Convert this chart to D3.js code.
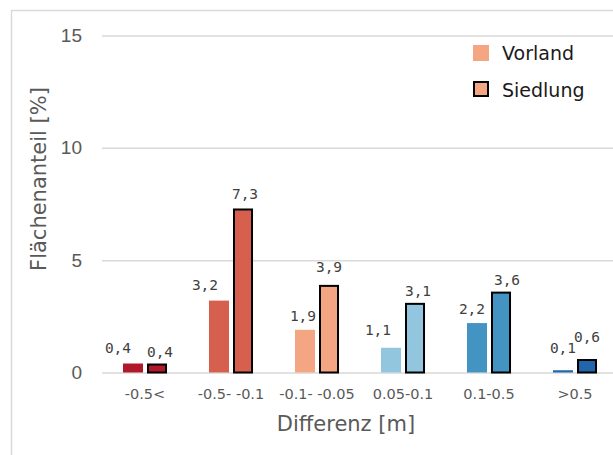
<!DOCTYPE html>
<meta charset="utf-8">
<script src="https://d3js.org/d3.v7.min.js"></script>
<style>
  body { margin: 0; background: #fff; }
  .tick text { fill: #595959; }
</style>
<div id="chart"></div>
<script>

  // data
  var categories = ["-0.5<", "-0.5- -0.1", "-0.1- -0.05", "0.05-0.1", "0.1-0.5", ">0.5"];
  var seriesNames = ["Vorland", "Siedlung"];
  var vorland = [0.4, 3.2, 1.9, 1.1, 2.2, 0.1];
  var siedlung = [0.4, 7.3, 3.9, 3.1, 3.6, 0.6];
  var yTicks = [0, 5, 10, 15];
  var colors = ["#b2182b", "#d6604d", "#f4a582", "#92c5de", "#4393c3", "#2166ac"];

  // small nudges so the value labels sit like in the original
  var labelDx = {Vorland: [-15, -14, -2, -13, -5, 0], Siedlung: [3, 2, 0, 3, 6, 0]};
  var labelDy = {Vorland: [-2, -2, 0, -4, 0, -8], Siedlung: [2, 0, -4, 2, 2, -8]};

  var width = 613, height = 455;

  var svg = d3.select("#chart")
    .append("svg")
      .attr("width", width)
      .attr("height", height)
      .style("font-family", "'DejaVu Sans', sans-serif");

  // chart frame
  svg.append("rect")
    .attr("x", 11.5).attr("y", 10.5)
    .attr("width", 620).attr("height", 460)
    .attr("fill", "none")
    .attr("stroke", "#d9d9d9")
    .attr("stroke-width", 1.5);

  var y = d3.scaleLinear()
    .domain([0, 15])
    .range([372.5, 35.5]);

  var x = d3.scaleBand()
    .domain(categories)
    .range([102, 618])
    .paddingInner(0.488)
    .paddingOuter(0.244);

  var x1 = d3.scaleBand()
    .domain(seriesNames)
    .range([0, x.bandwidth()])
    .paddingInner(1 / 6);

  // grid lines + y labels
  var yAxis = svg.append("g")
    .attr("transform", "translate(102,0)")
    .call(d3.axisLeft(y).tickValues(yTicks).tickSize(-520).tickPadding(20));
  yAxis.select(".domain").remove();
  yAxis.selectAll(".tick line").attr("stroke", "#d9d9d9").attr("stroke-width", 1.5);
  yAxis.selectAll(".tick text").style("font-size", "19px");

  // bars
  var rows = categories.map(function(c, i) {
    return {cat: c, i: i, values: [
      {name: "Vorland", v: vorland[i]},
      {name: "Siedlung", v: siedlung[i]}
    ]};
  });

  var groups = svg.selectAll(".grp")
    .data(rows)
    .enter()
    .append("g")
      .attr("class", "grp")
      .attr("transform", function(d) { return "translate(" + x(d.cat) + ",0)"; });

  groups.selectAll("rect")
    .data(function(d) { return d.values.map(function(s) { return {name: s.name, v: s.v, i: d.i}; }); })
    .enter()
    .append("rect")
      .attr("x", function(d) { return x1(d.name) + (d.name == "Siedlung" ? 1 : 0); })
      .attr("width", function(d) { return x1.bandwidth() - (d.name == "Siedlung" ? 2 : 0); })
      .attr("y", function(d) { return y(d.v) + (d.name == "Siedlung" ? 1 : 0); })
      .attr("height", function(d) { return y(0) - y(d.v) - (d.name == "Siedlung" ? 1 : 0); })
      .attr("fill", function(d) { return colors[d.i]; })
      .attr("stroke", function(d) { return d.name == "Siedlung" ? "#000" : "none"; })
      .attr("stroke-width", 2);

  // value labels
  groups.selectAll(".val")
    .data(function(d) { return d.values.map(function(s) { return {name: s.name, v: s.v, i: d.i}; }); })
    .enter()
    .append("text")
      .attr("class", "val")
      .attr("x", function(d) { return x1(d.name) + x1.bandwidth() / 2 + labelDx[d.name][d.i]; })
      .attr("y", function(d) { return y(d.v) - 9 + labelDy[d.name][d.i]; })
      .attr("text-anchor", "middle")
      .style("font-family", "'DejaVu Sans Mono', monospace")
      .style("font-size", "14.5px")
      .style("fill", "#404040")
      .text(function(d) { return String(d.v).replace(".", ","); });

  // x labels
  svg.selectAll(".xlab")
    .data(categories)
    .enter()
    .append("text")
      .attr("class", "xlab")
      .attr("x", function(d) { return x(d) + x.bandwidth() / 2; })
      .attr("y", 399)
      .attr("text-anchor", "middle")
      .style("font-size", "14.5px")
      .style("fill", "#595959")
      .text(function(d) { return d; });

  // axis titles
  svg.append("text")
    .attr("x", 346).attr("y", 431)
    .attr("text-anchor", "middle")
    .style("font-size", "21px")
    .style("fill", "#595959")
    .text("Differenz [m]");

  svg.append("text")
    .attr("transform", "translate(46,179) rotate(-90)")
    .attr("text-anchor", "middle")
    .style("font-size", "21px")
    .style("fill", "#595959")
    .text("Flächenanteil [%]");

  // legend
  var legend = svg.append("g");
  legend.append("rect")
    .attr("x", 473).attr("y", 45).attr("width", 16).attr("height", 16)
    .attr("fill", "#f4a582");
  legend.append("rect")
    .attr("x", 474).attr("y", 82).attr("width", 14).attr("height", 14)
    .attr("fill", "#f4a582").attr("stroke", "#000").attr("stroke-width", 2);
  legend.selectAll(".lt")
    .data(seriesNames)
    .enter()
    .append("text")
      .attr("x", 502)
      .attr("y", function(d, i) { return 60 + i * 37; })
      .style("font-size", "19px")
      .style("fill", "#1a1a1a")
      .text(function(d) { return d; });

</script>
